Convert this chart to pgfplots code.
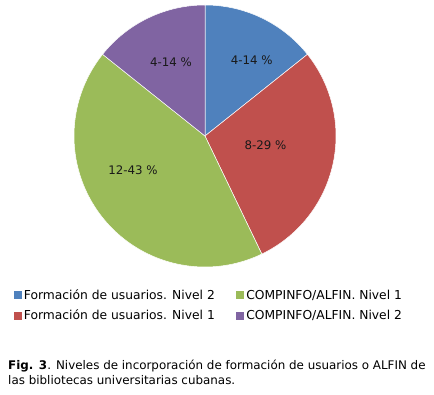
\documentclass[border=0pt]{standalone}
\usepackage{fontspec}
\setmainfont{DejaVu Sans}
\usepackage{pgfplots}
\usepackage{pgfplotstable}
\pgfplotsset{compat=1.18}
\definecolor{c0}{HTML}{4F81BD}
\definecolor{c1}{HTML}{C0504D}
\definecolor{c2}{HTML}{9BBB59}
\definecolor{c3}{HTML}{8064A2}
\newcommand\labfont{\fontsize{11.8}{13}\selectfont}

\pgfplotstableread{
name value lx ly
{Formación de usuarios. Nivel 2} 4 0.356 0.576
{Formación de usuarios. Nivel 1} 8 0.462 -0.073
{COMPINFO/ALFIN. Nivel 1} 12 -0.550 -0.263
{COMPINFO/ALFIN. Nivel 2} 4 -0.260 0.563
}\piedata

\begin{document}
\begin{tikzpicture}
\useasboundingbox (0pt,0pt) rectangle (434pt,394pt);
\def\total{0}
\pgfplotsforeachungrouped \i in {0,...,3}{%
  \pgfplotstablegetelem{\i}{value}\of\piedata
  \pgfmathsetmacro\total{\total+\pgfplotsretval}%
}
\begin{axis}[
  at={(205pt,258pt)}, anchor=origin,
  width=262pt, height=262pt, scale only axis,
  xmin=-1, xmax=1, ymin=-1, ymax=1,
  hide axis, clip=false,
  legend columns=2, transpose legend,
  legend cell align=left,
  legend image code/.code={\fill[#1,draw=none] (-2pt,-4pt) rectangle (6pt,4pt);},
  legend style={at={(axis cs:-1.46,-1.155)}, anchor=north west, draw=none, fill=none,
    inner sep=0pt, row sep=5pt, font=\fontsize{12.3}{13}\selectfont,
    /tikz/every even column/.append style={column sep=19.5pt}},
]
\xdef\cum{0}
\pgfplotsforeachungrouped \i in {0,...,3}{%
  \pgfplotstablegetelem{\i}{value}\of\piedata
  \pgfmathsetmacro\va{\pgfplotsretval}%
  \pgfmathsetmacro\a{90-\cum*360/\total}%
  \pgfmathsetmacro\tmp{\cum+\va}\xdef\cum{\tmp}%
  \pgfmathsetmacro\b{90-\cum*360/\total}%
  \pgfmathtruncatemacro\vi{\va}%
  \pgfmathtruncatemacro\pct{round(100*\va/\total)}%
  \pgfplotstablegetelem{\i}{lx}\of\piedata \let\lx\pgfplotsretval
  \pgfplotstablegetelem{\i}{ly}\of\piedata \let\ly\pgfplotsretval
  \pgfplotstablegetelem{\i}{name}\of\piedata \let\nm\pgfplotsretval
  \edef\cmd{\noexpand\addplot[fill=c\i, draw=white, line width=0.5pt, domain=\b:\a, samples=90] ({cos(x)},{sin(x)}) -- (axis cs:0,0) -- cycle;
    \noexpand\addlegendentry{\nm}
    \noexpand\node[font=\noexpand\labfont, text=black!90] at (axis cs:\lx,\ly) {\vi-\pct\space\noexpand\%};}%
  \cmd
}
\end{axis}
\node[anchor=north west, align=left, inner sep=0pt, font=\fontsize{11.9}{14.5}\selectfont] at (8pt,34pt)
  {\textbf{Fig. 3}. Niveles de incorporación de formación de usuarios o ALFIN de\\las bibliotecas universitarias cubanas.};
\end{tikzpicture}
\end{document}
